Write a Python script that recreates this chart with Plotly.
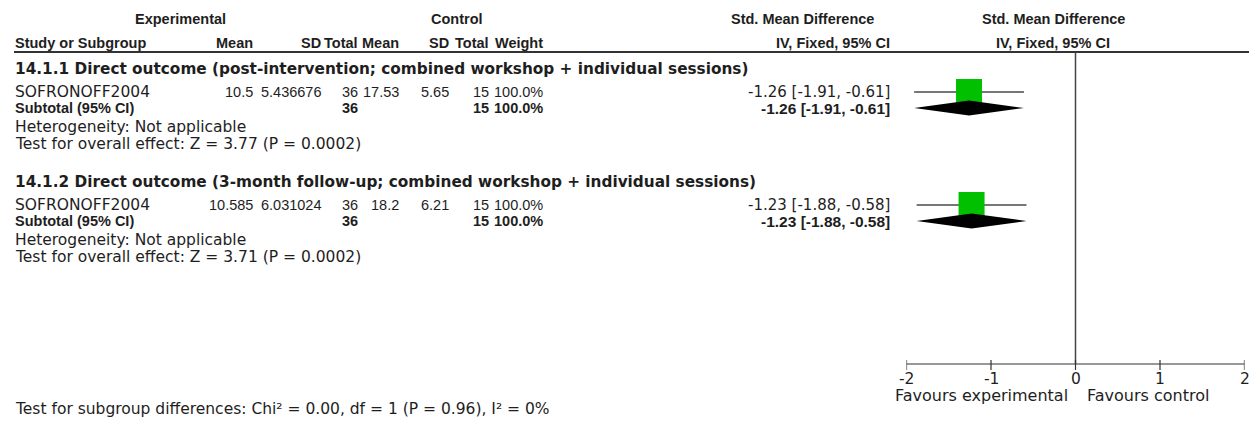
import plotly.graph_objects as go

# ---------------- data ----------------
subgroup_titles = [
    "14.1.1 Direct outcome (post-intervention; combined workshop + individual sessions)",
    "14.1.2 Direct outcome (3-month follow-up; combined workshop + individual sessions)",
]
study_names = ["SOFRONOFF2004", "SOFRONOFF2004"]
exp_mean = ["10.5", "10.585"]
exp_sd = ["5.436676", "6.031024"]
exp_n = [36, 36]
ctrl_mean = ["17.53", "18.2"]
ctrl_sd = ["5.65", "6.21"]
ctrl_n = [15, 15]
weights = [100.0, 100.0]
smd = [-1.26, -1.23]
ci_lo = [-1.91, -1.88]
ci_hi = [-0.61, -0.58]

sub_exp_n = [36, 36]
sub_ctrl_n = [15, 15]
sub_weight = [100.0, 100.0]
sub_smd = [-1.26, -1.23]
sub_lo = [-1.91, -1.88]
sub_hi = [-0.61, -0.58]

heterogeneity = ["Not applicable", "Not applicable"]
z_vals = [3.77, 3.71]
p_vals = ["0.0002", "0.0002"]

tick_vals = [-2, -1, 0, 1, 2]
favours_left = "Favours experimental"
favours_right = "Favours control"

subgroup_chi2 = "0.00"
subgroup_df = 1
subgroup_p = "0.96"
subgroup_i2 = "0%"

# ---------------- layout constants ----------------
W, H = 1257, 426
AX_L, AX_R = 898.5, 1236.5          # pixel positions of -2 and 2
Y_H1, Y_H2, Y_LINE = 11, 35, 44
ROWS = [
    dict(head=61, study=84, sub=100, het=119, test=136),
    dict(head=174, study=197, sub=213, het=232, test=249),
]
Y_AXIS, Y_TICKLAB, Y_FAV, Y_SUBTEST = 356, 371, 387, 401
X_LEFT = 6
C_EMEAN, C_ESD, C_EN = 246, 314, 351
C_CMEAN, C_CSD, C_CN = 392, 442, 482
C_W, C_CI = 536, 883
X_EXP_HDR, X_CTRL_HDR, X_SMD_HDR, X_PLOT_HDR = 172, 449, 794, 1045

TEXT_FONT = ("DejaVu Sans", 15.5, "normal")
NUM_FONT = ("Liberation Sans", 14.5, "normal")
CI_FONT = ("DejaVu Sans", 15, "normal")
HDR_FONT = ("Liberation Sans", 14.5, "bold")
NUM_BOLD = ("Liberation Sans", 14.5, "bold")
CI_BOLD = ("Liberation Sans", 15.5, "bold")
HEAD_FONT = ("DejaVu Sans", 15.3, "bold")
FAV_FONT = ("DejaVu Sans", 16, "normal")
TXT = "#1e1e1e"
GREEN = "#00C000"
SQUARE_PX = 26
DIAMOND_HALF = 7.5

fig = go.Figure()
ann = []


def text(x, y, s, anchor="left", font=TEXT_FONT, xref="x"):
    fam, size, weight = font
    ann.append(dict(
        x=x, y=y, xref=xref, yref="y", text=s, showarrow=False,
        xanchor=anchor, yanchor="middle", borderpad=0,
        font=dict(family=fam, size=size, color=TXT, weight=weight),
    ))


# headers
text(X_EXP_HDR, Y_H1, "Experimental", "center", HDR_FONT)
text(X_CTRL_HDR, Y_H1, "Control", "center", HDR_FONT)
text(X_SMD_HDR, Y_H1, "Std. Mean Difference", "center", HDR_FONT)
text(X_PLOT_HDR, Y_H1, "Std. Mean Difference", "center", HDR_FONT)
text(X_LEFT, Y_H2, "Study or Subgroup", "left", HDR_FONT)
text(C_EMEAN, Y_H2, "Mean", "right", HDR_FONT)
text(C_ESD, Y_H2, "SD", "right", HDR_FONT)
text(C_EN, Y_H2, "Total", "right", HDR_FONT)
text(C_CMEAN, Y_H2, "Mean", "right", HDR_FONT)
text(C_CSD, Y_H2, "SD", "right", HDR_FONT)
text(C_CN, Y_H2, "Total", "right", HDR_FONT)
text(C_W, Y_H2, "Weight", "right", HDR_FONT)
text(C_CI, Y_H2, "IV, Fixed, 95% CI", "right", HDR_FONT)
text(X_PLOT_HDR, Y_H2, "IV, Fixed, 95% CI", "center", HDR_FONT)

ci_x, ci_y = [], []
for i, r in enumerate(ROWS):
    text(X_LEFT, r["head"], subgroup_titles[i], "left", HEAD_FONT)
    # study row
    text(X_LEFT, r["study"], study_names[i])
    text(C_EMEAN, r["study"], exp_mean[i], "right", NUM_FONT)
    text(C_ESD, r["study"], exp_sd[i], "right", NUM_FONT)
    text(C_EN, r["study"], str(exp_n[i]), "right", NUM_FONT)
    text(C_CMEAN, r["study"], ctrl_mean[i], "right", NUM_FONT)
    text(C_CSD, r["study"], ctrl_sd[i], "right", NUM_FONT)
    text(C_CN, r["study"], str(ctrl_n[i]), "right", NUM_FONT)
    text(C_W, r["study"], f"{weights[i]:.1f}%", "right", NUM_FONT)
    text(C_CI, r["study"], f"{smd[i]:.2f} [{ci_lo[i]:.2f}, {ci_hi[i]:.2f}]", "right", CI_FONT)
    # subtotal row
    text(X_LEFT, r["sub"], "Subtotal (95% CI)", "left", HDR_FONT)
    text(C_EN, r["sub"], str(sub_exp_n[i]), "right", NUM_BOLD)
    text(C_CN, r["sub"], str(sub_ctrl_n[i]), "right", NUM_BOLD)
    text(C_W, r["sub"], f"{sub_weight[i]:.1f}%", "right", NUM_BOLD)
    text(C_CI, r["sub"], f"{sub_smd[i]:.2f} [{sub_lo[i]:.2f}, {sub_hi[i]:.2f}]", "right", CI_BOLD)
    text(X_LEFT, r["het"], f"Heterogeneity: {heterogeneity[i]}")
    text(X_LEFT, r["test"], f"Test for overall effect: Z = {z_vals[i]:.2f} (P = {p_vals[i]})")

    ci_x += [ci_lo[i], ci_hi[i], None]
    ci_y += [r["study"], r["study"], None]

# confidence interval lines
fig.add_trace(go.Scatter(x=ci_x, y=ci_y, mode="lines", xaxis="x2", yaxis="y",
                         line=dict(color="#4a4a4a", width=1.5), hoverinfo="skip",
                         showlegend=False))
# study squares
fig.add_trace(go.Scatter(
    x=smd, y=[r["study"] for r in ROWS], mode="markers", xaxis="x2", yaxis="y",
    marker=dict(symbol="square", color=GREEN, opacity=1,
                size=[SQUARE_PX * w / 100 for w in weights], line=dict(width=0)),
    opacity=1, showlegend=False, hoverinfo="skip"))
# subtotal diamonds
for i, r in enumerate(ROWS):
    yc = r["sub"]
    fig.add_trace(go.Scatter(
        x=[sub_lo[i], sub_smd[i], sub_hi[i], sub_smd[i], sub_lo[i]],
        y=[yc, yc - DIAMOND_HALF, yc, yc + DIAMOND_HALF, yc],
        mode="lines", fill="toself", fillcolor="black", line=dict(width=0, color="black"),
        xaxis="x2", yaxis="y", showlegend=False, hoverinfo="skip"))

# header rule, zero line, axis, ticks, tick labels
shapes = [
    dict(type="line", xref="x", yref="y", x0=X_LEFT, x1=W, y0=Y_LINE, y1=Y_LINE,
         line=dict(color="#333333", width=2)),
    dict(type="line", xref="x2", yref="y", x0=0, x1=0, y0=Y_LINE, y1=Y_AXIS,
         line=dict(color="#444444", width=1.5)),
    dict(type="line", xref="x2", yref="y", x0=tick_vals[0], x1=tick_vals[-1],
         y0=Y_AXIS, y1=Y_AXIS, line=dict(color="#333333", width=1.2)),
]
for v in tick_vals:
    shapes.append(dict(type="line", xref="x2", yref="y", x0=v, x1=v,
                       y0=Y_AXIS - 4, y1=Y_AXIS + 6, line=dict(color="#333333", width=1.2)))
    text(v, Y_TICKLAB, f"{v}", "center", TEXT_FONT, xref="x2")

text(-0.077, Y_FAV, favours_left, "right", FAV_FONT, xref="x2")
text(0.124, Y_FAV, favours_right, "left", FAV_FONT, xref="x2")

text(X_LEFT, Y_SUBTEST,
     f"Test for subgroup differences: Chi² = {subgroup_chi2}, df = {subgroup_df} "
     f"(P = {subgroup_p}), I² = {subgroup_i2}")

fig.update_layout(
    width=W, height=H, margin=dict(l=0, r=0, t=0, b=0, pad=0),
    paper_bgcolor="white", plot_bgcolor="white",
    xaxis=dict(range=[0, W], visible=False, fixedrange=True),
    xaxis2=dict(range=[tick_vals[0], tick_vals[-1]], domain=[AX_L / W, AX_R / W],
                anchor="y", visible=False, fixedrange=True),
    yaxis=dict(range=[H, 0], visible=False, fixedrange=True),
    shapes=shapes, annotations=ann, showlegend=False,
)

fig.write_html("out.html")
